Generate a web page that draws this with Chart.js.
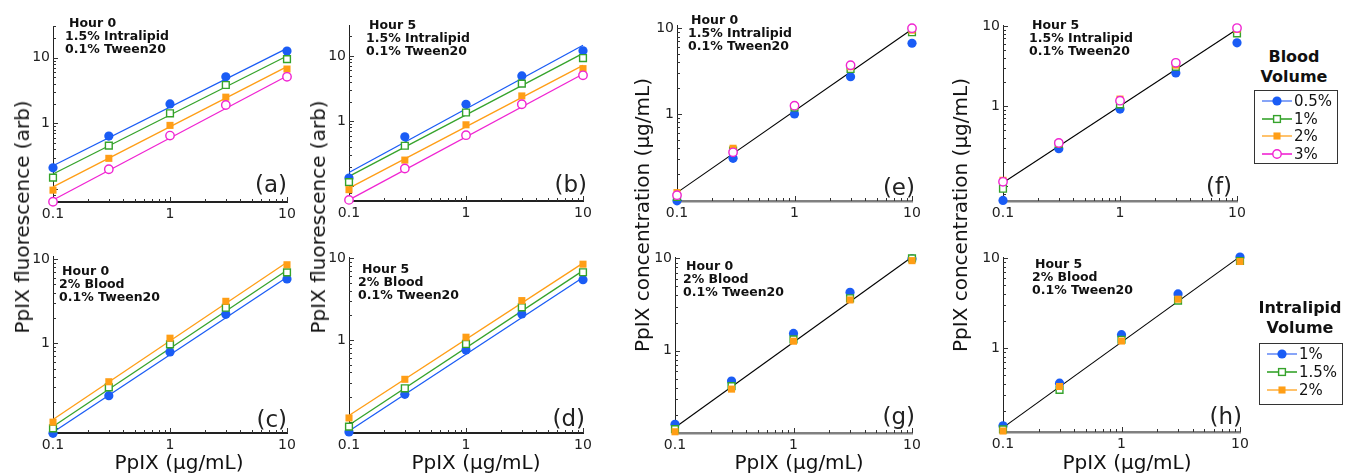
<!DOCTYPE html>
<html><head><meta charset="utf-8">
<script src="https://cdn.jsdelivr.net/npm/chart.js@4.4.1/dist/chart.umd.min.js"></script>
<style>
html,body{margin:0;padding:0;background:#fff;}
body{width:1356px;height:474px;position:relative;overflow:hidden;font-family:"DejaVu Sans",sans-serif;color:#111;}
canvas.pc{position:absolute;}
.ann{position:absolute;font:bold 12.5px "DejaVu Sans";line-height:13px;white-space:nowrap;color:#111;}
.plab{position:absolute;font:23px "DejaVu Sans";line-height:23px;white-space:nowrap;transform:translateX(-100%);color:#222;}
.ytitle{position:absolute;font:20px "DejaVu Sans";line-height:20px;white-space:nowrap;transform:translate(-50%,-50%) rotate(-90deg);color:#111;}
.xtitle{position:absolute;font:20px "DejaVu Sans";line-height:20px;white-space:nowrap;transform:translateX(-50%);color:#111;}
.ltitle{position:absolute;font:bold 16px "DejaVu Sans";line-height:20px;text-align:center;white-space:nowrap;transform:translateX(-50%);color:#111;}
.lbox{position:absolute;border:1.3px solid #333;box-sizing:border-box;background:#fff;}
.lrow{position:absolute;height:18px;display:flex;align-items:center;font:15px "DejaVu Sans";white-space:nowrap;color:#111;}
.lrow svg{display:block;margin-right:2px;}
</style>
</head><body>
<script>
// ---------------- DATA ----------------
const concentrations = [0.1, 0.3, 1, 3, 10];      // PpIX (µg/mL)
const fitRange = [0.1, 10];                        // x extent of fit lines
const xTickLabelValues = [0.1, 1, 10];
const yTickLabelValues = [1, 10];
const tickDecades = [0.01, 0.1, 1, 10];
const tickMultipliers = [1, 2, 3, 4, 5, 6, 7, 8, 9];
const bloodVolumes = ['0.5%', '1%', '2%', '3%'];
const intralipidVolumes = ['1%', '1.5%', '2%'];

// (a) Hour 0, 1.5% Intralipid — fluorescence (arb)
const a_blood05 = [0.21, 0.64, 1.97, 5.1, 12.6];
const a_blood1  = [0.149, 0.457, 1.42, 3.83, 9.5];
const a_blood2  = [0.096, 0.293, 0.93, 2.5, 6.7];
const a_blood3  = [0.064, 0.20, 0.65, 1.9, 5.1];
const a_fit05 = [0.226, 13.8], a_fit1 = [0.169, 10.6], a_fit2 = [0.108, 7.3], a_fit3 = [0.068, 5.25];

// (b) Hour 5, 1.5% Intralipid — fluorescence (arb)
const b_blood05 = [0.134, 0.575, 1.82, 4.94, 12.0];
const b_blood1  = [0.116, 0.42, 1.36, 3.77, 9.3];
const b_blood2  = [0.089, 0.253, 0.88, 2.44, 6.4];
const b_blood3  = [0.062, 0.188, 0.61, 1.82, 5.06];
const b_fit05 = [0.163, 14.6], b_fit1 = [0.142, 11.0], b_fit2 = [0.094, 7.2], b_fit3 = [0.062, 5.3];

// (c) Hour 0, 2% Blood — fluorescence (arb)
const c_lipid1  = [0.0855, 0.239, 0.79, 2.21, 5.8];
const c_lipid15 = [0.098, 0.30, 0.97, 2.64, 6.95];
const c_lipid2  = [0.116, 0.35, 1.15, 3.15, 8.55];
const c_fit1 = [0.088, 6.07], c_fit15 = [0.103, 7.35], c_fit2 = [0.125, 9.14];

// (d) Hour 5, 2% Blood — fluorescence (arb)
const d_lipid1  = [0.0748, 0.216, 0.755, 2.08, 5.47];
const d_lipid15 = [0.0869, 0.256, 0.893, 2.51, 6.74];
const d_lipid2  = [0.111, 0.33, 1.08, 3.03, 8.45];
const d_fit1 = [0.077, 5.8], d_fit15 = [0.091, 7.05], d_fit2 = [0.119, 8.7];

// (e) Hour 0, 1.5% Intralipid — recovered concentration (µg/mL)
const e_blood05 = [0.097, 0.304, 1.0, 2.72, 6.68];
const e_blood1  = [0.108, 0.373, 1.19, 3.35, 8.98];
const e_blood2  = [0.121, 0.398, 1.24, 3.56, 9.5];
const e_blood3  = [0.113, 0.357, 1.25, 3.7, 10.0];
const e_fit = [0.121, 9.73];

// (f) Hour 5, 1.5% Intralipid — recovered concentration (µg/mL)
const f_blood05 = [0.066, 0.293, 0.917, 2.59, 6.17];
const f_blood1  = [0.0926, 0.335, 1.05, 3.1, 8.1];
const f_blood2  = [0.118, 0.341, 1.22, 3.25, 9.08];
const f_blood3  = [0.113, 0.345, 1.165, 3.47, 9.44];
const f_fit = [0.110, 9.1];

// (g) Hour 0, 2% Blood — recovered concentration (µg/mL)
const g_lipid1  = [0.16, 0.47, 1.54, 4.3, 9.9];
const g_lipid15 = [0.142, 0.415, 1.33, 3.7, 10.0];
const g_lipid2  = [0.133, 0.385, 1.27, 3.55, 9.45];
const g_fit = [0.148, 10.35];

// (h) Hour 5, 2% Blood — recovered concentration (µg/mL)
const h_lipid1  = [0.137, 0.408, 1.41, 4.0, 10.3];
const h_lipid15 = [0.125, 0.344, 1.24, 3.38, 9.3];
const h_lipid2  = [0.12, 0.375, 1.2, 3.5, 9.18];
const h_fit = [0.131, 10.4];

// ---------------- STYLE / LAYOUT ----------------
const COLORS = ['#1a5cf5', '#35a32b', '#ff9e16', '#f024d2'];
const LEGEND_LINE = ['#6a8ff6', '#35a32b', '#ffb347', '#f024d2'];
const MARKERS = [
  {ps:'circle', r:4.6, filled:true},
  {ps:'rect',   r:4.8, filled:false},
  {ps:'rect',   r:5.0, filled:true},
  {ps:'circle', r:4.2, filled:false}
];

const panels = [
  {letter:'(a)', area:[53,287,26,202],  y:[0.0634,30.3], series:[a_blood05,a_blood1,a_blood2,a_blood3], fits:[a_fit05,a_fit1,a_fit2,a_fit3], xAxisColor:'#222', xAxisW:2,
   ann:['Hour 0','1.5% Intralipid','0.1% Tween20'], annPos:[65,15.5,4], lab:[287,173]},
  {letter:'(b)', area:[349,583,25,201], y:[0.0596,29.9], series:[b_blood05,b_blood1,b_blood2,b_blood3], fits:[b_fit05,b_fit1,b_fit2,b_fit3], xAxisColor:'#222', xAxisW:2,
   ann:['Hour 5','1.5% Intralipid','0.1% Tween20'], annPos:[366,17.5,3], lab:[587,173]},
  {letter:'(c)', area:[53,287,256,433], y:[0.0863,10.86], series:[c_lipid1,c_lipid15,c_lipid2], fits:[c_fit1,c_fit15,c_fit2], xAxisColor:'#222', xAxisW:2,
   ann:['Hour 0','2% Blood','0.1% Tween20'], annPos:[59,263.5,3], lab:[287,408]},
  {letter:'(d)', area:[349,583,257,433], y:[0.0727,10.35], series:[d_lipid1,d_lipid15,d_lipid2], fits:[d_fit1,d_fit15,d_fit2], xAxisColor:'#222', xAxisW:2,
   ann:['Hour 5','2% Blood','0.1% Tween20'], annPos:[358,261.5,4], lab:[585,407]},
  {letter:'(e)', area:[677,912,25,201], y:[0.0966,10.9], series:[e_blood05,e_blood1,e_blood2,e_blood3], blackFit:e_fit, xAxisColor:'#808080', xAxisW:2.5,
   ann:['Hour 0','1.5% Intralipid','0.1% Tween20'], annPos:[688,12.5,3], lab:[915,176]},
  {letter:'(f)', area:[1003,1237,25,201], y:[0.065,10.3], series:[f_blood05,f_blood1,f_blood2,f_blood3], blackFit:f_fit, xAxisColor:'#808080', xAxisW:2.5,
   ann:['Hour 5','1.5% Intralipid','0.1% Tween20'], annPos:[1029,17.5,3], lab:[1232,175]},
  {letter:'(g)', area:[675,912,257,433], y:[0.129,10.35], series:[g_lipid1,g_lipid15,g_lipid2], blackFit:g_fit, xAxisColor:'#808080', xAxisW:2.5,
   ann:['Hour 0','2% Blood','0.1% Tween20'], annPos:[683,258.5,3], lab:[915,405]},
  {letter:'(h)', area:[1003,1240,257,432], y:[0.117,10.3], series:[h_lipid1,h_lipid15,h_lipid2], blackFit:h_fit, xAxisColor:'#808080', xAxisW:2.5,
   ann:['Hour 5','2% Blood','0.1% Tween20'], annPos:[1032,256.5,3], lab:[1242,405]}
];

// ---------------- HELPERS ----------------
const near = (v, arr) => arr.some(t => Math.abs(t - v) / t < 1e-6);
const allTicks = [];
tickDecades.forEach(d => tickMultipliers.forEach(m => allTicks.push(+(d * m).toPrecision(6))));

const inwardTicks = {
  id: 'inwardTicks',
  beforeDatasetsDraw(chart) {
    const ctx = chart.ctx, ca = chart.chartArea;
    ctx.save();
    ctx.strokeStyle = '#333';
    ctx.lineWidth = 1;
    ['x', 'y'].forEach(id => {
      const s = chart.scales[id];
      s.ticks.forEach(t => {
        const major = near(t.value, tickDecades);
        const len = major ? 5 : 3;
        const p = Math.round(s.getPixelForValue(t.value)) + 0.5;
        ctx.beginPath();
        if (id === 'x') { ctx.moveTo(p, ca.bottom); ctx.lineTo(p, ca.bottom - len); }
        else { ctx.moveTo(ca.left, p); ctx.lineTo(ca.left + len, p); }
        ctx.stroke();
      });
    });
    ctx.restore();
  }
};

const L = 48, T = 14, R = 22, B = 30;

function makePanel(p) {
  const [x0, x1, y0, y1] = p.area;
  const cv = document.createElement('canvas');
  cv.className = 'pc';
  const W = (x1 - x0) + L + R, H = (y1 - y0) + T + B;
  cv.width = W; cv.height = H;
  cv.style.left = (x0 - L) + 'px';
  cv.style.top = (y0 - T) + 'px';
  cv.style.width = W + 'px'; cv.style.height = H + 'px';
  document.body.appendChild(cv);

  const datasets = [];
  p.series.forEach((vals, i) => {
    const m = MARKERS[i];
    datasets.push({
      label: 'pts' + i,
      data: concentrations.map((c, k) => ({x: c, y: vals[k]})),
      showLine: false,
      pointStyle: m.ps,
      pointRadius: m.r,
      pointHoverRadius: m.r,
      pointBorderWidth: m.filled ? 0 : 1.4,
      pointBorderColor: COLORS[i],
      pointBackgroundColor: m.filled ? COLORS[i] : '#ffffff',
      clip: false,
      order: 10 - i
    });
  });
  if (p.fits) {
    p.fits.forEach((f, i) => {
      datasets.push({
        label: 'fit' + i,
        data: fitRange.map((c, k) => ({x: c, y: f[k]})),
        showLine: true, pointRadius: 0, pointHoverRadius: 0,
        borderColor: COLORS[i], borderWidth: 1.3,
        clip: false, order: 30 - i
      });
    });
  }
  if (p.blackFit) {
    datasets.push({
      label: 'fit',
      data: fitRange.map((c, k) => ({x: c, y: p.blackFit[k]})),
      showLine: true, pointRadius: 0, pointHoverRadius: 0,
      borderColor: '#000', borderWidth: 1.1,
      clip: false, order: 40
    });
  }

  new Chart(cv, {
    type: 'scatter',
    data: {datasets},
    options: {
      responsive: false, animation: false, devicePixelRatio: 1,
      events: [],
      layout: {padding: {left: 0, top: T, right: R, bottom: 0}},
      plugins: {legend: {display: false}, tooltip: {enabled: false}},
      scales: {
        x: {
          type: 'logarithmic', min: fitRange[0], max: fitRange[1], bounds: 'data',
          grid: {display: false, drawTicks: false},
          border: {display: true, color: p.xAxisColor, width: p.xAxisW},
          afterFit: s => { s.height = B; },
          afterBuildTicks: s => { s.ticks = allTicks.filter(v => v >= s.min * 0.9999 && v <= s.max * 1.0001).map(v => ({value: v})); },
          ticks: {
            autoSkip: false, maxRotation: 0, minRotation: 0, padding: 4,
            color: '#222', font: {family: 'DejaVu Sans', size: 14},
            callback: v => near(v, xTickLabelValues) ? String(v) : ''
          }
        },
        y: {
          type: 'logarithmic', min: p.y[0], max: p.y[1], bounds: 'data',
          grid: {display: false, drawTicks: false},
          border: {display: true, color: '#222', width: 1},
          afterFit: s => { s.width = L; },
          afterBuildTicks: s => { s.ticks = allTicks.filter(v => v >= s.min && v <= s.max).map(v => ({value: v})); },
          ticks: {
            autoSkip: false, padding: 3,
            color: '#222', font: {family: 'DejaVu Sans', size: 14},
            callback: v => near(v, yTickLabelValues) ? String(v) : ''
          }
        }
      }
    },
    plugins: [inwardTicks]
  });

  // annotation text
  const ann = document.createElement('div');
  ann.className = 'ann';
  ann.style.left = p.annPos[0] + 'px';
  ann.style.top = p.annPos[1] + 'px';
  p.ann.forEach((line, i) => {
    const d = document.createElement('div');
    d.textContent = line;
    if (i === 0) d.style.paddingLeft = p.annPos[2] + 'px';
    ann.appendChild(d);
  });
  document.body.appendChild(ann);

  const lab = document.createElement('div');
  lab.className = 'plab';
  lab.textContent = p.letter;
  lab.style.left = p.lab[0] + 'px';
  lab.style.top = p.lab[1] + 'px';
  document.body.appendChild(lab);
}

panels.forEach(makePanel);

function addText(cls, text, x, y) {
  const d = document.createElement('div');
  d.className = cls; d.textContent = text;
  d.style.left = x + 'px'; d.style.top = y + 'px';
  document.body.appendChild(d);
}
addText('ytitle', 'PpIX fluorescence (arb)', 22, 217);
addText('ytitle', 'PpIX fluorescence (arb)', 318, 217);
addText('ytitle', 'PpIX concentration (µg/mL)', 642, 215);
addText('ytitle', 'PpIX concentration (µg/mL)', 960, 215);
addText('xtitle', 'PpIX (µg/mL)', 179, 452);
addText('xtitle', 'PpIX (µg/mL)', 476, 452);
addText('xtitle', 'PpIX (µg/mL)', 799, 452);
addText('xtitle', 'PpIX (µg/mL)', 1127, 452);

function markerSVG(i) {
  const m = MARKERS[i], c = COLORS[i];
  let shape;
  if (m.ps === 'circle') {
    shape = `<circle cx="15" cy="9" r="${m.r}" fill="${m.filled ? c : '#fff'}" stroke="${c}" stroke-width="${m.filled ? 0 : 1.4}"/>`;
  } else {
    const s = m.r * Math.SQRT1_2;
    shape = `<rect x="${15 - s}" y="${9 - s}" width="${2 * s}" height="${2 * s}" fill="${m.filled ? c : '#fff'}" stroke="${c}" stroke-width="${m.filled ? 0 : 1.4}"/>`;
  }
  return `<svg width="30" height="18"><line x1="0" y1="9" x2="30" y2="9" stroke="${LEGEND_LINE[i]}" stroke-width="1.6"/>${shape}</svg>`;
}

function addLegend(titleLines, labels, titleX, titleTop, box, rowTop, rowStep, rowLeft) {
  const t = document.createElement('div');
  t.className = 'ltitle';
  t.innerHTML = titleLines.join('<br>');
  t.style.left = titleX + 'px'; t.style.top = titleTop + 'px';
  document.body.appendChild(t);
  const b = document.createElement('div');
  b.className = 'lbox';
  b.style.left = box[0] + 'px'; b.style.top = box[1] + 'px';
  b.style.width = box[2] + 'px'; b.style.height = box[3] + 'px';
  document.body.appendChild(b);
  labels.forEach((lab, i) => {
    const r = document.createElement('div');
    r.className = 'lrow';
    r.style.left = rowLeft + 'px';
    r.style.top = (rowTop + i * rowStep) + 'px';
    r.innerHTML = markerSVG(i) + '<span></span>';
    r.querySelector('span').textContent = lab;
    document.body.appendChild(r);
  });
}
addLegend(['Blood', 'Volume'], bloodVolumes, 1294, 47, [1254, 90, 84, 74], 92, 17.7, 1262);
addLegend(['Intralipid', 'Volume'], intralipidVolumes, 1300, 298, [1259, 343, 84, 62], 345, 18, 1267);
</script>
</body></html>
